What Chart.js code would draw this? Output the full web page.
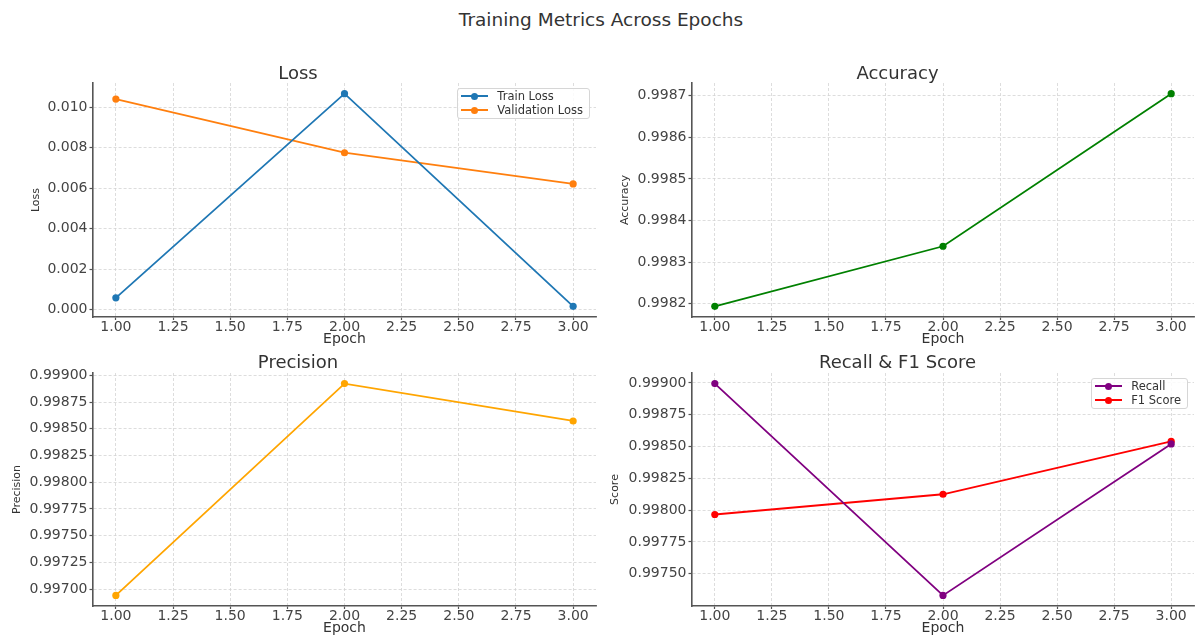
<!DOCTYPE html>
<html>
<head>
<meta charset="utf-8">
<title>Training Metrics Across Epochs</title>
<script src="https://cdn.jsdelivr.net/npm/chart.js@4.4.1/dist/chart.umd.min.js"></script>
<style>
  html, body { margin: 0; padding: 0; background: #fff; overflow: hidden; }
  #page { position: relative; width: 1198px; height: 635px; overflow: hidden; font-family: "DejaVu Sans", sans-serif; }
  #page canvas { position: absolute; }
  .suptitle { position: absolute; left: 0; width: 1202px; top: 10px; height: 20px; line-height: 20px;
              text-align: center; font-size: 18.5px; color: #333; }
  .legend { position: absolute; border: 1px solid #d6d6d6; border-radius: 3px; background: rgba(255,255,255,0.85);
            padding: 0 6px 0 3px; font-size: 11.5px; color: #333; }
  .legend .row { height: 14.3px; line-height: 14.3px; white-space: nowrap; display: flex; align-items: center; }
  .legend .swatch { position: relative; width: 27px; height: 14px; margin-right: 9px; flex: none; }
  .legend .swatch .ln { position: absolute; left: 0; right: 0; top: 6px; height: 2px; }
  .legend .swatch .dot { position: absolute; left: 10px; top: 3.5px; width: 7px; height: 7px; border-radius: 50%; }
</style>
</head>
<body>
<div id="page">
  <div class="suptitle">Training Metrics Across Epochs</div>
  <canvas id="lossChart"></canvas>
  <canvas id="accuracyChart"></canvas>
  <canvas id="precisionChart"></canvas>
  <canvas id="scoreChart"></canvas>
</div>
<script>
// Per-epoch metrics
const epochs = [1, 2, 3];
const trainLoss = [0.00058, 0.01067, 0.00016];
const valLoss = [0.01040, 0.00775, 0.00621];
const accuracy = [0.9981935, 0.998338, 0.998705];
const precision = [0.99694, 0.998923, 0.998573];
const recall = [0.998995, 0.99733, 0.998521];
const f1Score = [0.997966, 0.998125, 0.998541];

// Tick values
const epochTicks = [1.00, 1.25, 1.50, 1.75, 2.00, 2.25, 2.50, 2.75, 3.00];
const lossTicks = [0.000, 0.002, 0.004, 0.006, 0.008, 0.010];
const accuracyTicks = [0.9982, 0.9983, 0.9984, 0.9985, 0.9986, 0.9987];
const precisionTicks = [0.99700, 0.99725, 0.99750, 0.99775, 0.99800, 0.99825, 0.99850, 0.99875, 0.99900];
const scoreTicks = [0.99750, 0.99775, 0.99800, 0.99825, 0.99850, 0.99875, 0.99900];

const FONT = "'DejaVu Sans', sans-serif";
const PAGE_W = 1198;
const page = document.getElementById('page');

function buildLegend(chart, box) {
  const div = document.createElement('div');
  div.className = 'legend';
  chart.data.datasets.forEach(ds => {
    const row = document.createElement('div');
    row.className = 'row';
    const sw = document.createElement('span');
    sw.className = 'swatch';
    const ln = document.createElement('span');
    ln.className = 'ln';
    ln.style.background = ds.borderColor;
    const dot = document.createElement('span');
    dot.className = 'dot';
    dot.style.background = ds.borderColor;
    sw.appendChild(ln);
    sw.appendChild(dot);
    const txt = document.createElement('span');
    txt.textContent = ds.label;
    row.appendChild(sw);
    row.appendChild(txt);
    div.appendChild(row);
  });
  const ca = chart.chartArea;
  div.style.right = (PAGE_W - (box.x + ca.right - 6)) + 'px';
  div.style.top = (box.y + ca.top + 5) + 'px';
  page.appendChild(div);
}

function panel(cfg) {
  const { id, box, area, title, titleY, yTitle, yTitleX, xTitleY, yTicks, digits, series, legend } = cfg;
  const canvas = document.getElementById(id);
  canvas.width = box.w;
  canvas.height = box.h;
  canvas.style.left = box.x + 'px';
  canvas.style.top = box.y + 'px';
  canvas.style.width = box.w + 'px';
  canvas.style.height = box.h + 'px';

  // value range with 5% margins on both sides
  const all = series.flatMap(s => s.values);
  const lo = Math.min(...all), hi = Math.max(...all);
  const m = (hi - lo) * 0.05;

  const tickFont = { family: FONT, size: 14, lineHeight: 1 };
  const gridOpts = { color: '#d4d4d4', lineWidth: 0.8, drawTicks: true, tickLength: 3.5, tickColor: '#555', tickWidth: 1.2 };
  const borderOpts = { display: true, color: '#555', width: 1.6, dash: [3, 2] };

  const chart = new Chart(canvas, {
    type: 'line',
    data: {
      datasets: series.map(s => ({
        label: s.label,
        data: epochs.map((e, i) => ({ x: e, y: s.values[i] })),
        borderColor: s.color,
        backgroundColor: s.color,
        pointBackgroundColor: s.color,
        pointBorderWidth: 0,
        pointRadius: 3.6,
        borderWidth: 1.8,
        tension: 0,
        fill: false
      }))
    },
    options: {
      responsive: false,
      animation: false,
      devicePixelRatio: 1,
      events: [],
      layout: { padding: { left: 0, top: 0, bottom: 0, right: box.x + box.w - area.right } },
      plugins: {
        legend: { display: false },
        tooltip: { enabled: false },
        title: {
          display: true, text: title, color: '#333',
          font: { family: FONT, size: 18, weight: 'normal', lineHeight: 1 },
          padding: { top: titleY - box.y - 9, bottom: Math.max(area.top - titleY - 9, 0) }
        }
      },
      scales: {
        x: {
          type: 'linear', bounds: 'data', min: 0.9, max: 3.1,
          afterBuildTicks: s => { s.ticks = epochTicks.map(v => ({ value: v })); },
          afterFit: s => { s.height = box.y + box.h - area.bottom; },
          ticks: { callback: v => Number(v).toFixed(2), font: tickFont, color: '#444', padding: 0, autoSkip: false, maxRotation: 0 },
          grid: { ...gridOpts, tickLength: 3 },
          border: borderOpts,
          title: {
            display: true, text: 'Epoch', color: '#333',
            font: { family: FONT, size: 14, lineHeight: 1 },
            padding: { top: 0, bottom: box.y + box.h - xTitleY - 7 }
          }
        },
        y: {
          type: 'linear', bounds: 'data', min: lo - m, max: hi + m,
          afterBuildTicks: s => { s.ticks = yTicks.map(v => ({ value: v })); },
          afterFit: s => { s.width = area.left - box.x; },
          ticks: { callback: v => Number(v).toFixed(digits), font: tickFont, color: '#444', padding: 2, autoSkip: false },
          grid: gridOpts,
          border: borderOpts,
          title: {
            display: true, text: yTitle, color: '#333',
            font: { family: FONT, size: 11, lineHeight: 1 },
            padding: { top: yTitleX - box.x - 5.5, bottom: 0 }
          }
        }
      }
    }
  });

  if (legend) buildLegend(chart, box);
  return chart;
}

panel({
  id: 'lossChart',
  box: { x: 0, y: 56, w: 600, h: 294 },
  area: { left: 93, top: 83, right: 596, bottom: 317 },
  title: 'Loss', titleY: 74, yTitle: 'Loss', yTitleX: 36, xTitleY: 339.4,
  yTicks: lossTicks, digits: 3,
  series: [
    { label: 'Train Loss', values: trainLoss, color: '#1f77b4' },
    { label: 'Validation Loss', values: valLoss, color: '#ff7f0e' }
  ],
  legend: true
});

panel({
  id: 'accuracyChart',
  box: { x: 600, y: 56, w: 598, h: 294 },
  area: { left: 692, top: 83, right: 1195, bottom: 317 },
  title: 'Accuracy', titleY: 74, yTitle: 'Accuracy', yTitleX: 625, xTitleY: 339.4,
  yTicks: accuracyTicks, digits: 4,
  series: [
    { label: 'Accuracy', values: accuracy, color: '#008000' }
  ],
  legend: false
});

panel({
  id: 'precisionChart',
  box: { x: 0, y: 346, w: 600, h: 294 },
  area: { left: 93, top: 373, right: 596, bottom: 606 },
  title: 'Precision', titleY: 363.5, yTitle: 'Precision', yTitleX: 17, xTitleY: 628.6,
  yTicks: precisionTicks, digits: 5,
  series: [
    { label: 'Precision', values: precision, color: '#ffa500' }
  ],
  legend: false
});

panel({
  id: 'scoreChart',
  box: { x: 600, y: 346, w: 598, h: 294 },
  area: { left: 692, top: 373, right: 1195, bottom: 606 },
  title: 'Recall & F1 Score', titleY: 363.5, yTitle: 'Score', yTitleX: 615.5, xTitleY: 628.6,
  yTicks: scoreTicks, digits: 5,
  series: [
    { label: 'Recall', values: recall, color: '#800080' },
    { label: 'F1 Score', values: f1Score, color: '#ff0000' }
  ],
  legend: true
});
</script>
</body>
</html>
